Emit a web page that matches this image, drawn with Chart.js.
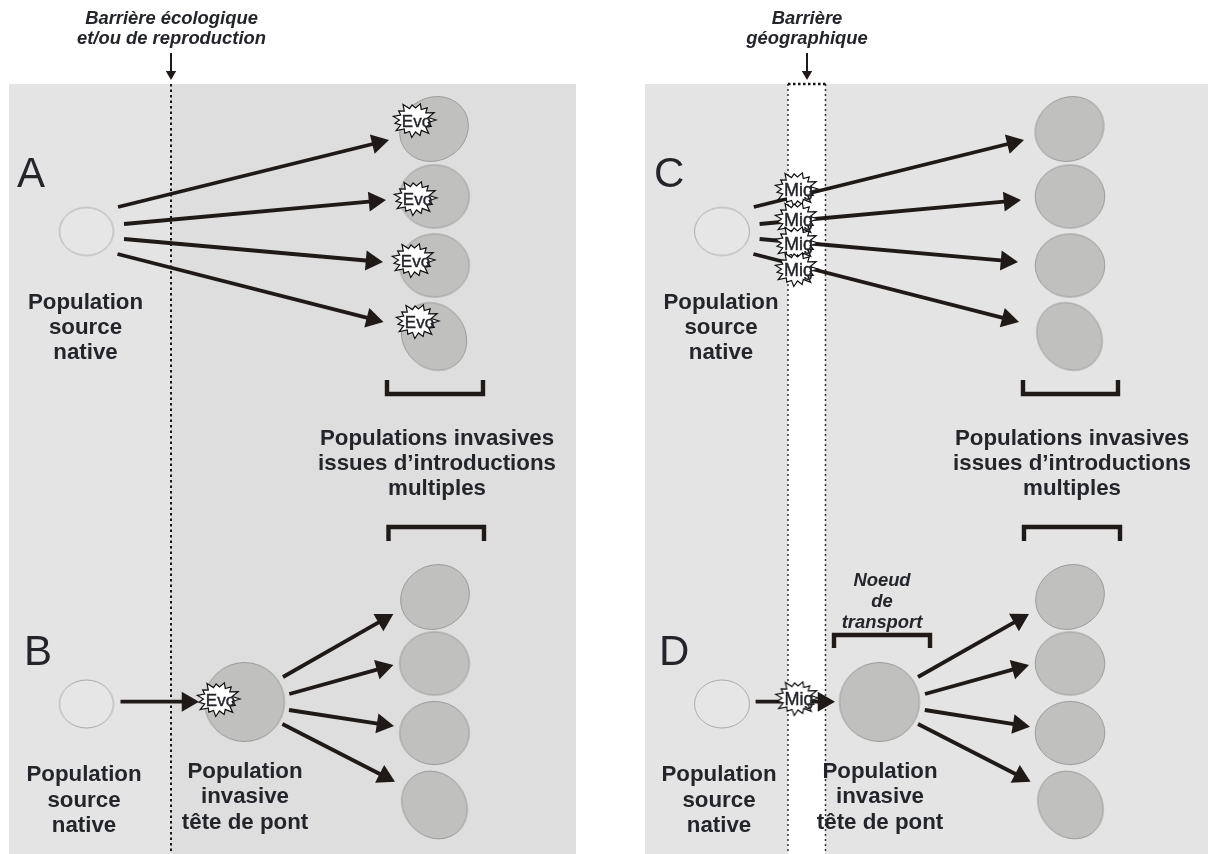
<!DOCTYPE html>
<html lang="fr"><head><meta charset="utf-8">
<style>html,body{margin:0;padding:0;background:#fff}canvas{display:block}</style>
<script src="https://cdn.jsdelivr.net/npm/chart.js@4"></script>
</head><body><canvas id="c" width="1208" height="854"></canvas>
<script>
// ---- data, in picture units (1 unit = 1 px on the scales) ----
const bandStart = [9, 171, 645, 825];
const bandEnd   = [171, 576, 788, 1208];
const bandTop = 84, bandBottom = 854;

const sourceX = [86.5, 86.5, 722, 722];
const sourceY = [231.5, 704, 231.5, 704];
const hubX = [244.5, 879.5];
const hubY = [702, 702];

const blobX = [434, 434.5, 434.5, 434, 435, 434.5, 434.5, 434.5,
               1069.5, 1070, 1070, 1069.5, 1070, 1070, 1070, 1070.5];
const blobY = [129, 196.5, 265.5, 336.5, 597, 663.5, 733, 805,
               129, 196.5, 265.5, 336.5, 597, 663.5, 733, 805];
const blobKind = [0, 1, 1, 2, 0, 1, 1, 2, 0, 1, 1, 2, 0, 1, 1, 2];

const arrowTailX = [118, 124, 124, 117.5, 120.5, 283, 289.3, 289, 282.4,
                    753.8, 759.6, 759.6, 753.4, 755.6, 918, 925, 924.8, 918];
const arrowTailY = [207, 224, 239, 254, 701.7, 677, 694, 710, 724,
                    207, 224, 239, 254, 701.7, 677, 694, 710, 724];
const arrowTipX  = [389, 386, 383, 383.5, 199, 393.4, 393.4, 394, 395,
                    1024, 1021, 1018, 1019, 835, 1029, 1029, 1030, 1030.6];
const arrowTipY  = [140, 200, 262, 322, 701.7, 614, 665, 726, 781.7,
                    140, 200, 262, 322, 701.7, 614, 665, 726.7, 781.7];

const pointerX = [171, 807];
const pointerTailY = [53, 53];
const pointerTipY = [80, 80];

const dottedX = [171, 788, 825.5];
const stripTopX = [788, 825.5];
const stripTopY = 84;

const bracketLeft  = [387, 388.5, 1023, 1024, 834];
const bracketRight = [483, 484, 1118, 1120, 930];
const bracketBar   = [394, 527, 394, 527, 635];
const bracketEnd   = [380, 541, 380, 541, 648];

const burstX = [414, 415, 413, 417, 218, 796, 796, 796, 796, 796.5];
const burstY = [120, 198, 260, 321, 699, 189, 219, 243, 269, 698];
const burstLabels = ['Evo','Evo','Evo','Evo','Evo','Mig','Mig','Mig','Mig','Mig'];

const panelLetters = ['A','B','C','D'];
const panelLetterX = [17, 24, 654, 659];
const panelLetterY = [187, 665, 187, 665];

const boldLabels = ['Population','source','native','Population','source','native',
  'Population','invasive','tête de pont',
  'Populations invasives','issues d’introductions','multiples',
  'Population','source','native','Population','source','native',
  'Population','invasive','tête de pont',
  'Populations invasives','issues d’introductions','multiples'];
const boldX = [85.5,85.5,85.5,84,84,84,245,245,245,437,437,437,
               721,721,721,719,719,719,880,880,880,1072,1072,1072];
const boldY = [302.5,328,353,775,800.5,826,771.5,797,822.5,438.5,464,489,
               302.5,328,353,775,800.5,826,771.5,797,822.5,438.5,464,489];

const italicLabels = ['Barrière écologique','et/ou de reproduction','Barrière','géographique','Noeud','de','transport'];
const italicX = [171.5,171.5,807,807,882,882,882];
const italicY = [18.5,39,18.5,39,581,602,623];

// ---- styles ----
const BLACK = '#1f1a17', TEXT = '#23252a';
const SOFT = '#e4e4e4', DARK = '#dedede';
const bandColours = [SOFT, DARK, SOFT, SOFT];
const blobFill = '#c0c0be', blobEdge = '#8e8e8e';

// sprites for marks whose shape Chart.js has no built-in for
function sprite(w, h, draw) {
  const s = document.createElement('canvas');
  s.width = w; s.height = h;
  const g = s.getContext('2d');
  g.translate(w / 2, h / 2);
  draw(g);
  return s;
}
function ellipseSprite(a, b, deg, fill, edge) {
  return sprite(92, 92, g => {
    g.beginPath();
    g.ellipse(0, 0, a, b, deg * Math.PI / 180, 0, 2 * Math.PI);
    g.fillStyle = fill; g.fill();
    g.lineWidth = 0.8; g.strokeStyle = edge; g.stroke();
  });
}
const blobSprites = [
  ellipseSprite(35.3, 31.5, -30, blobFill, blobEdge),
  ellipseSprite(34.8, 31.6, 0, blobFill, blobEdge),
  ellipseSprite(35.5, 31, 52, blobFill, blobEdge)
];
const hubSprite = ellipseSprite(40, 39.5, 0, blobFill, blobEdge);
const sourceSprites = [
  ellipseSprite(27, 24, 0, '#e6e6e6', '#9c9c9c'),
  ellipseSprite(27.5, 24, 0, '#e6e6e6', '#9c9c9c')
];
const spikeReach = [1, .86, 1, .9, .98, .84, 1, .88, .96, .86, 1, .84, .94, .9, 1];
const burstSprite = sprite(56, 48, g => {
  const n = spikeReach.length;
  g.beginPath();
  for (let i = 0; i < n; i++) {
    const t = i / n * 2 * Math.PI, u = (i + .5) / n * 2 * Math.PI;
    g.lineTo(Math.cos(t) * 22 * spikeReach[i], Math.sin(t) * 18 * spikeReach[i]);
    g.lineTo(Math.cos(u) * 14.5, Math.sin(u) * 12);
  }
  g.closePath();
  g.fillStyle = '#fff'; g.fill();
  g.lineWidth = 1.2; g.lineJoin = 'miter'; g.strokeStyle = '#111'; g.stroke();
});

// ---- datasets, in painter's order ----
const layers = [];
const zip = (xs, ys) => xs.map((x, i) => ({ x, y: ys[i] }));
function polyline(points, colour, width, dash) {
  layers.push({ data: points, showLine: true, borderColor: colour, borderWidth: width,
    borderDash: dash || [], pointRadius: 0, fill: false, tension: 0,
    borderCapStyle: 'butt', borderJoinStyle: 'miter' });
}
function marks(points, style) {
  layers.push({ data: points, showLine: false, pointStyle: style, pointRadius: 6,
    pointBorderWidth: 0, pointBackgroundColor: BLACK, pointBorderColor: BLACK });
}
function arrow(x0, y0, x1, y1, width, head) {
  const len = Math.hypot(x1 - x0, y1 - y0);
  const ux = (x1 - x0) / len, uy = (y1 - y0) / len;
  const cx = x1 - ux * head, cy = y1 - uy * head;
  polyline([{ x: x0, y: y0 }, { x: cx, y: cy }], BLACK, width);
  layers.push({ data: [{ x: cx, y: cy }], showLine: false, pointStyle: 'triangle',
    pointRadius: head, pointRotation: Math.atan2(ux, -uy) * 180 / Math.PI,
    pointBorderWidth: 0, pointBackgroundColor: BLACK, pointBorderColor: BLACK });
}

marks(zip(sourceX, sourceY), sourceX.map((x, i) => sourceSprites[i < 2 ? 0 : 1]));
marks(zip(blobX, blobY), blobKind.map(k => blobSprites[k]));
marks(zip(hubX, hubY), hubSprite);

dottedX.forEach((x, i) => polyline([{ x, y: bandTop }, { x, y: bandBottom }],
  i === 0 ? '#15151a' : '#333', i === 0 ? 2 : 1.5, i === 0 ? [2.5, 3] : [2, 3]));
polyline(zip(stripTopX, [stripTopY, stripTopY]), '#15151a', 2.5, [2.5, 2.5]);

arrowTailX.forEach((x, i) => arrow(x, arrowTailY[i], arrowTipX[i], arrowTipY[i], 3.8, 11.5));
pointerX.forEach((x, i) => arrow(x, pointerTailY[i], x, pointerTipY[i], 2, 6));

bracketLeft.forEach((l, i) => polyline(
  [{ x: l, y: bracketEnd[i] }, { x: l, y: bracketBar[i] },
   { x: bracketRight[i], y: bracketBar[i] }, { x: bracketRight[i], y: bracketEnd[i] }], BLACK, 4.4));

marks(zip(burstX, burstY), burstSprite);

layers.reverse(); // Chart.js paints the first dataset last

// ---- bands under the marks, text over them, placed through the scales ----
const diagram = {
  id: 'diagram',
  beforeDatasetsDraw(chart) {
    const { ctx, scales: { x, y } } = chart;
    bandStart.forEach((s, i) => {
      ctx.fillStyle = bandColours[i];
      ctx.fillRect(x.getPixelForValue(s), y.getPixelForValue(bandTop),
        x.getPixelForValue(bandEnd[i]) - x.getPixelForValue(s),
        y.getPixelForValue(bandBottom) - y.getPixelForValue(bandTop));
    });
  },
  afterDatasetsDraw(chart) {
    const { ctx, scales: { x, y } } = chart;
    const put = (s, px, py) => ctx.fillText(s, x.getPixelForValue(px), y.getPixelForValue(py));
    ctx.save();
    ctx.textBaseline = 'middle'; ctx.textAlign = 'center'; ctx.fillStyle = TEXT;
    ctx.font = 'bold 22.3px "Liberation Sans"';
    boldLabels.forEach((s, i) => put(s, boldX[i], boldY[i]));
    ctx.font = 'italic bold 18.4px "Liberation Sans"';
    italicLabels.forEach((s, i) => put(s, italicX[i], italicY[i]));
    ctx.strokeStyle = TEXT; ctx.lineWidth = 0.4;
    burstLabels.forEach((s, i) => {
      ctx.font = (s === 'Mig' ? '18px' : '17px') + ' "Liberation Sans"';
      put(s, burstX[i] + 2.5, burstY[i] + 2.5);
      ctx.strokeText(s, x.getPixelForValue(burstX[i] + 2.5), y.getPixelForValue(burstY[i] + 2.5));
    });
    ctx.textAlign = 'left'; ctx.textBaseline = 'alphabetic';
    ctx.font = '42px "Liberation Sans"';
    panelLetters.forEach((s, i) => put(s, panelLetterX[i], panelLetterY[i]));
    ctx.restore();
  }
};

new Chart(document.getElementById('c'), {
  type: 'scatter',
  data: { datasets: layers },
  plugins: [diagram],
  options: {
    responsive: false, animation: false,
    layout: { padding: 0, autoPadding: false },
    events: [],
    plugins: { legend: { display: false }, tooltip: { enabled: false }, title: { display: false } },
    scales: {
      x: { type: 'linear', display: false, min: 0, max: 1208 },
      y: { type: 'linear', display: false, min: 0, max: 854, reverse: true }
    }
  }
});
</script></body></html>
